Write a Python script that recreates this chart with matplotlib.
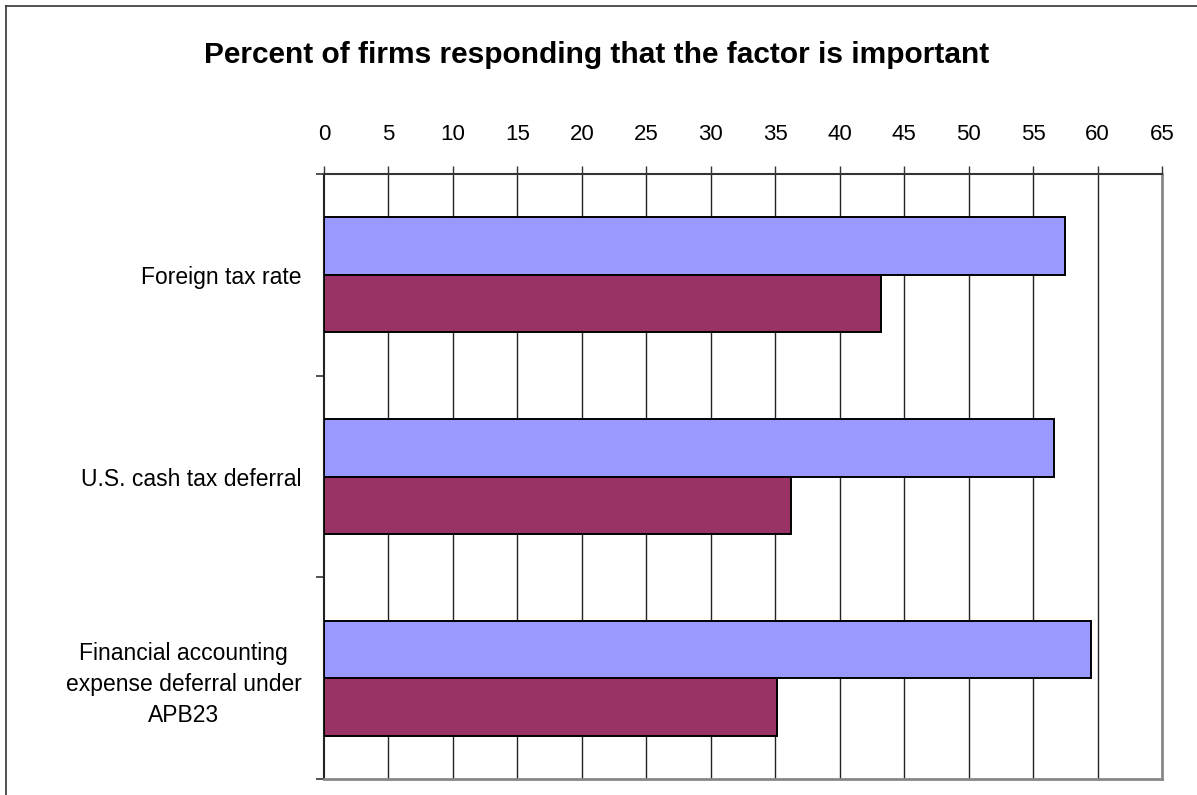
import numpy as np
import matplotlib
matplotlib.use("Agg")
import matplotlib.pyplot as plt
from matplotlib.lines import Line2D

plt.rcParams['font.family'] = ['Liberation Sans', 'DejaVu Sans']

# factors and the two survey series (percent of firms)
factors = ["Foreign tax rate",
           "U.S. cash tax deferral",
           "Financial accounting\nexpense deferral under\nAPB23"]
series_blue = [57.5, 56.6, 59.5]
series_red = [43.2, 36.2, 35.1]
xticks = list(range(0, 70, 5))

fig = plt.figure(figsize=(11.97, 7.95), dpi=100)
ax = fig.add_axes([324 / 1197, 1 - 779 / 795, 838 / 1197, 605 / 795])

y = np.arange(len(factors))
h = 0.2857
ax.barh(y - h / 2, series_blue, height=h, color="#9999FF",
        edgecolor="black", linewidth=1.4, zorder=3)
ax.barh(y + h / 2, series_red, height=h, color="#993366",
        edgecolor="black", linewidth=1.4, zorder=3)

ax.set_xlim(0, 65)
ax.set_ylim(2.5, -0.5)

# value axis on top
ax.xaxis.tick_top()
ax.set_xticks(xticks)
ax.set_xticklabels([str(t) for t in xticks], fontsize=16)
ax.tick_params(axis="x", direction="out", length=6, width=1, pad=15,
               color="#333333")
for t in xticks[1:-1]:
    ax.axvline(t, color="#222222", linewidth=1, zorder=1)

# category axis: labels at centres, tick marks between groups
ax.set_yticks(y)
ax.set_yticklabels(factors, fontsize=16.5)
ax.set_yticks(np.arange(-0.5, len(factors), 1.0), minor=True)
ax.tick_params(axis="y", which="major", length=0, pad=16)
ax.tick_params(axis="y", which="minor", direction="out", length=6,
               width=1.2, color="#333333")
for lab in ax.get_yticklabels():
    lab.set_multialignment("center")
    lab.set_linespacing(1.45)

ax.spines["top"].set_color("#333333")
ax.spines["left"].set_color("#222222")
ax.spines["top"].set_linewidth(1.5)
ax.spines["left"].set_linewidth(1.5)
ax.spines["right"].set_color("#888888")
ax.spines["bottom"].set_color("#888888")
ax.spines["right"].set_linewidth(2)
ax.spines["bottom"].set_linewidth(2)

fig.text(597 / 1197, 1 - 55 / 795,
         "Percent of firms responding that the factor is important",
         ha="center", va="center", fontsize=21.5, fontweight="bold")

# outer chart frame (left and top edges visible)
fl = 5.5 / 1197
ft = 1 - 5.5 / 795
fig.add_artist(Line2D([fl, fl], [0, ft], color="#333333", linewidth=1.2))
fig.add_artist(Line2D([fl, 1], [ft, ft], color="#333333", linewidth=1.2))

fig.savefig("out.png", dpi=100)
